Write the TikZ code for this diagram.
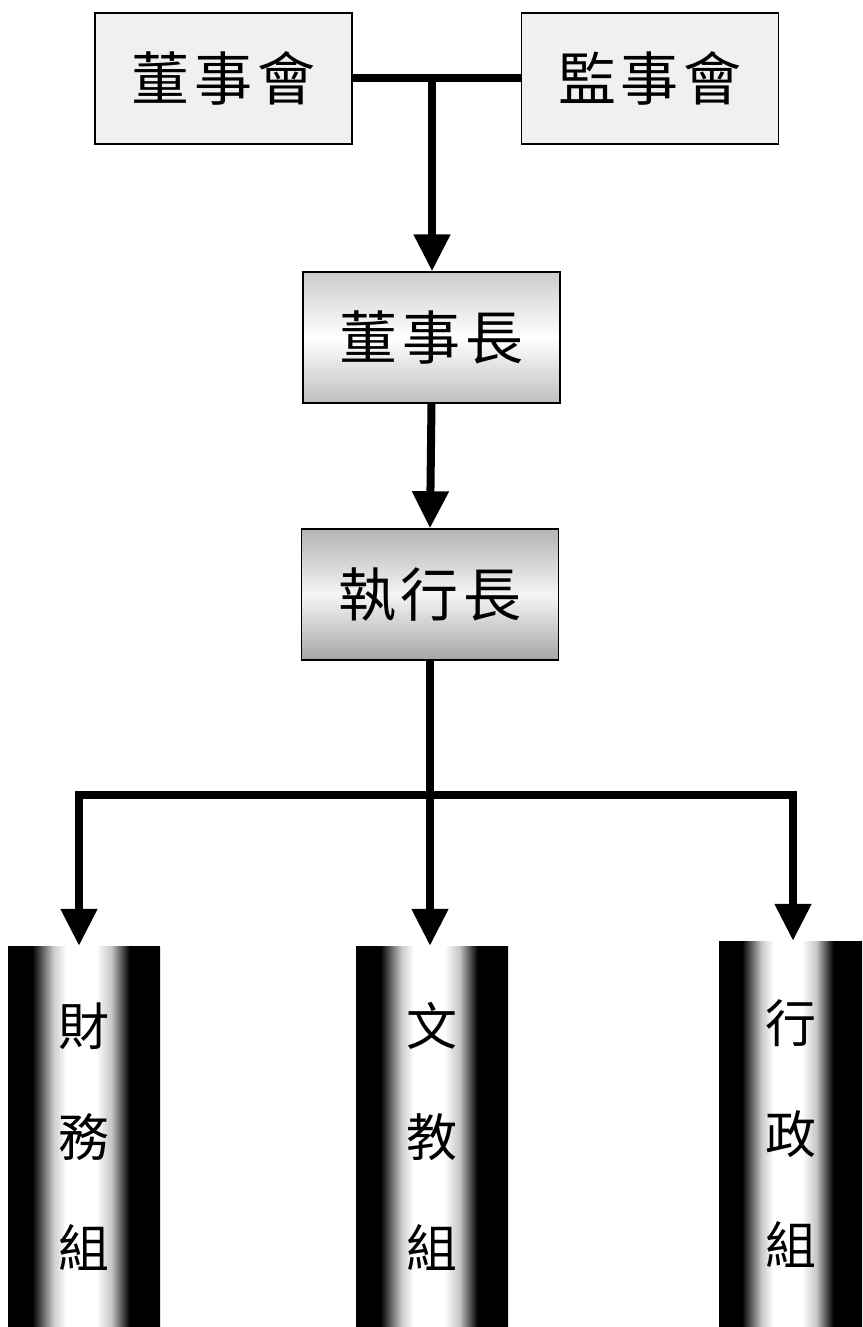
\documentclass[tikz,border=0pt]{standalone}
\usepackage{fontspec}
\newfontfamily\cjk{Noto Sans CJK TC}
\usetikzlibrary{arrows.meta}
\newcommand\gap{\kern5pt}
\pgfdeclarehorizontalshading{pillar}{100bp}{color(0bp)=(black); color(33bp)=(black); color(40bp)=(gray!40); color(44bp)=(white); color(54bp)=(white); color(59bp)=(gray!45); color(65bp)=(black); color(100bp)=(black)}
\begin{document}
\begin{tikzpicture}[x=1pt,y=-1pt,
  box/.style={draw=black,line width=1.5pt,minimum width=257pt,minimum height=131pt,inner sep=0pt,font=\cjk\fontsize{58}{60}\selectfont},
  topbox/.style={box,fill=gray!12},
  col/.style={draw=none,minimum width=152pt,minimum height=381pt,inner sep=0pt,align=center,
    shading=pillar,
    font=\cjk\fontsize{51}{111}\selectfont},
  conn/.style={line width=8pt},
  arr/.style={conn,-{Triangle[width=35pt,length=37pt]}}
]
\useasboundingbox[fill=white] (0,0) rectangle (862,1327);
\node[topbox] (dsh) at (223.5,78.5) {董\gap 事\gap 會};
\node[topbox] (jsh) at (650,78.5) {監\gap 事\gap 會};
\node[box,top color=gray!40,bottom color=gray!50,middle color=white] (chair) at (431.5,337.5) {董\gap 事\gap 長};
\node[box,top color=gray!60,bottom color=gray!70,middle color=gray!8] (ceo) at (430,594.5) {執\gap 行\gap 長};
\node[col] (fin) at (84,1136.5) {財\\務\\組};
\node[col] (edu) at (432,1136.5) {文\\教\\組};
\node[col,minimum width=143pt,minimum height=386pt] (adm) at (790.5,1134) {行\\政\\組};
% connectors
\draw[conn] (dsh.east) -- (jsh.west);
\coordinate (t) at (432,78.5);
\draw[arr] (t) -- (t |- chair.north);
\draw[arr] (chair.south) -- (ceo.north);
\coordinate (b) at (430,795);
\coordinate (l) at (79,795);
\coordinate (r) at (793,795);
\draw[conn] (ceo.south) -- (b);
\draw[conn,line cap=rect] (l) -- (r);
\draw[arr] (l) -- (l |- fin.north);
\draw[arr] (b) -- (b |- edu.north);
\draw[arr] (r) -- (r |- adm.north);
\end{tikzpicture}
\end{document}
